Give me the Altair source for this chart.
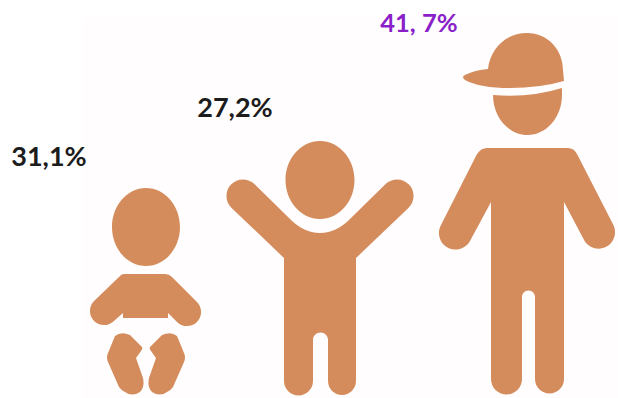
import altair as alt
import pandas as pd

# Age groups and their shares
groups = ["infant", "child", "youth"]
shares = [31.1, 27.2, 41.7]
share_labels = ["31,1%", "27,2%", "41, 7%"]
label_colors = ["#1c1c1c", "#1c1c1c", "#8a1fc9"]
label_sizes = [27, 27, 25.5]

# Where each figure stands and where its label sits, on a 618x398 canvas
figure_x = [146, 320, 527]
figure_y = [395, 395, 395]
label_x = [49, 235, 419]
label_y = [166, 117, 32]

# Figure outlines, drawn around the point between the feet
figure_paths = [
    "M-34,-168 A34,39 0 1 1 34,-168 A34,39 0 1 1 -34,-168 Z "
    "M-22,-121 L19,-121 Q23,-121 26,-118 L50.7,-93.2 A14,14 0 0 1 31.3,-72.8 L22,-82 L22,-77 "
    "L-23,-77 L-23,-82 L-32.6,-73.6 A14,14 0 0 1 -51.4,-94.4 L-27,-118 Q-25,-121 -22,-121 Z "
    "M-31,-59 Q-25,-64 -16,-60 L-4,-48 Q-3,-46 -5,-44 L-10,-37 L-3,-17 Q-1,-8 -6,-3 "
    "Q-14,2 -21,-3 Q-25,-5 -27,-8 L-38,-33 Q-40,-38 -38,-42 Z "
    "M31,-59 Q25,-64 16,-60 L4,-48 Q3,-46 5,-44 L10,-37 L3,-17 Q1,-8 6,-3 "
    "Q14,2 21,-3 Q25,-5 27,-8 L38,-33 Q40,-38 38,-42 Z",
    "M-34.5,-215 A34.5,39 0 1 1 34.5,-215 A34.5,39 0 1 1 -34.5,-215 Z "
    "M-65.6,-211 L-32,-178 Q-17,-162 0,-162 Q17,-162 32,-178 L65.6,-211 A16.5,16.5 0 0 1 88.4,-187 "
    "L36,-137 L36,-14 A14,14 0 0 1 8,-14 L8,-55 A7.5,7.5 0 0 0 -7,-55 L-7,-14 "
    "A14.5,14.5 0 0 1 -36,-14 L-36,-137 L-88.4,-187 A16.5,16.5 0 0 1 -65.6,-211 Z",
    "M-39,-326 C-37,-345 -22,-362 0,-362 C21,-362 36,-345 36,-325 L37,-314 Q13,-307 -17,-307 "
    "Q-47,-307 -62,-315 Q-66,-318 -62,-320 Q-52,-325 -39,-326 Z "
    "M-34,-300 Q3,-297 35,-307 L35,-300 A34.5,40 0 0 1 -34,-300 Z "
    "M-40,-247 L41,-247 Q47,-247 50,-241 L86.4,-170 A16.5,16.5 0 0 1 57.6,-154 L37,-193 L37,-16 "
    "A14.5,14.5 0 0 1 8,-16 L8,-98 A6.5,6.5 0 0 0 -5,-98 L-5,-16 A15.5,15.5 0 0 1 -36,-16 "
    "L-36,-193 L-57,-154 A16.5,16.5 0 0 1 -86,-170 L-50,-241 Q-46,-247 -40,-247 Z",
]

# Faint backing panel behind the figures
panel_x = [83]
panel_x2 = [618]
panel_y = [17]
panel_y2 = [398]

W, H = 618, 398
x_scale = alt.Scale(domain=[0, W], range=[0, W], nice=False, zero=False)
y_scale = alt.Scale(domain=[0, H], range=[0, H], nice=False, zero=False)

table = pd.DataFrame({
    "group": groups,
    "share": shares,
    "label": share_labels,
    "label_color": label_colors,
    "label_size": label_sizes,
    "fx": figure_x,
    "fy": figure_y,
    "lx": label_x,
    "ly": label_y,
    "path": figure_paths,
})
panel_table = pd.DataFrame({"x": panel_x, "x2": panel_x2, "y": panel_y, "y2": panel_y2})

panel = alt.Chart(panel_table).mark_rect(color="#fffdfd").encode(
    x=alt.X("x:Q", scale=x_scale, axis=None),
    x2="x2:Q",
    y=alt.Y("y:Q", scale=y_scale, axis=None),
    y2="y2:Q",
)

figures = alt.Chart(table).mark_point(filled=True, opacity=1, size=4, color="#d58c5c").encode(
    x=alt.X("fx:Q", scale=x_scale, axis=None),
    y=alt.Y("fy:Q", scale=y_scale, axis=None),
    shape=alt.Shape("path:N", scale=None, legend=None),
)

labels = alt.Chart(table).mark_text(
    font="Lato", fontWeight="bold", align="center", baseline="alphabetic"
).encode(
    x=alt.X("lx:Q", scale=x_scale, axis=None),
    y=alt.Y("ly:Q", scale=y_scale, axis=None),
    text="label:N",
    color=alt.Color("label_color:N", scale=None, legend=None),
    size=alt.Size("label_size:Q", scale=None, legend=None),
)

chart = (
    alt.layer(panel, figures, labels)
    .properties(width=W, height=H, padding=0, background="#ffffff", autosize=alt.AutoSizeParams(type="none"))
    .configure_view(stroke=None)
)

chart.save("out.html", embed_options={"renderer": "svg", "actions": False})
